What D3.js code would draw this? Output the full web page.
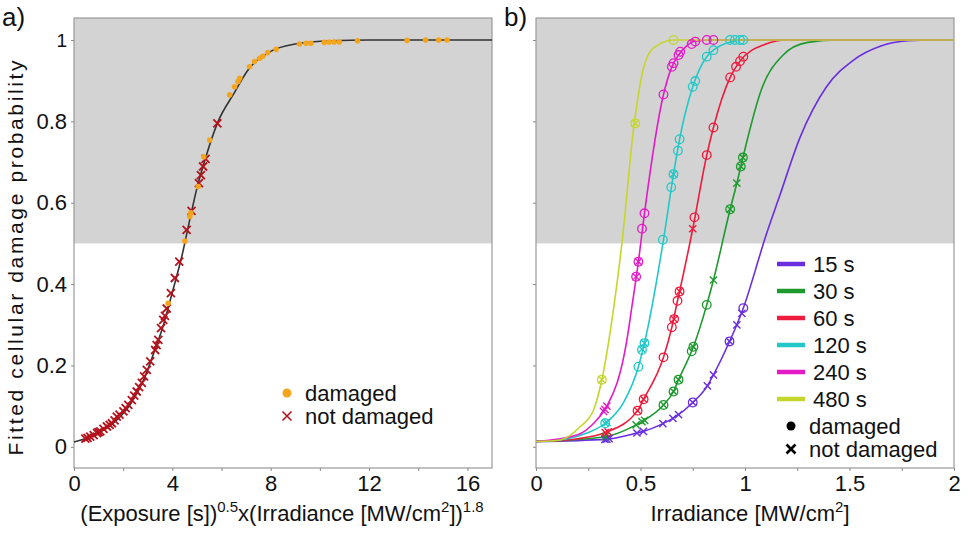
<!DOCTYPE html>
<html>
<head>
<meta charset="utf-8">
<script src="https://cdn.jsdelivr.net/npm/d3@7"></script>
<style>
body { margin: 0; background: #fff; }
text { font-family: "Liberation Sans", Arial, sans-serif; fill: #111; }
</style>
</head>
<body>
<div id="chart"></div>
<script>
// ---- panel a) data : [x, fitted probability] ----
var curveA = [[0,0.012],[0.8,0.028],[1.6,0.058],[2.3,0.105],[2.85,0.167],[3.3,0.24],[3.6,0.292],
    [4.0,0.38],[4.4,0.472],[4.7,0.556],[5.0,0.636],[5.4,0.72],[5.85,0.798],[6.5,0.868],
    [7.1,0.928],[8.0,0.972],[9.0,0.99],[10.5,0.998],[12,1],[17,1]];
var notDamagedA = [[0.46,0.02],[0.55,0.022],[0.66,0.025],[0.8,0.029],[0.94,0.034],[1.0,0.036],[1.07,0.038],
    [1.2,0.044],[1.34,0.05],[1.45,0.054],[1.54,0.058],[1.65,0.065],[1.74,0.074],[1.85,0.079],[2.01,0.087],
    [2.1,0.095],[2.21,0.103],[2.35,0.115],[2.45,0.126],[2.55,0.136],[2.65,0.147],[2.76,0.157],[2.85,0.173],
    [2.96,0.189],[3.1,0.21],[3.3,0.238],[3.36,0.25],[3.43,0.263],[3.54,0.292],[3.63,0.312],[3.7,0.322],
    [3.77,0.34],[3.94,0.378],[4.1,0.415],[4.28,0.455],[4.58,0.533],[4.78,0.58],[5.08,0.648],[5.16,0.668],
    [5.25,0.689],[5.35,0.708],[5.83,0.795]];
var damagedA = [[3.83,0.353],[4.51,0.506],[4.71,0.566],[4.75,0.575],[5.05,0.64],[5.28,0.713],[5.52,0.754],
    [6.33,0.865],[6.53,0.885],[6.67,0.898],[6.74,0.906],[7.14,0.934],[7.34,0.947],[7.55,0.955],[7.68,0.96],
    [7.88,0.969],[8.22,0.977],[9.17,0.99],[9.44,0.992],[9.64,0.992],[10.18,0.994],[10.38,0.995],
    [10.58,0.995],[10.79,0.995],[11.53,0.998],[13.55,0.999],[14.3,1],[14.83,1],[15.17,1]];

// ---- panel b) data : [irradiance, fitted probability] ----
var seriesNames = ["15 s", "30 s", "60 s", "120 s", "240 s", "480 s"];
var curve15 = [[0,0.013],[0.339,0.019],[0.483,0.034],[0.514,0.038],[0.607,0.057],[0.655,0.07],[0.682,0.079],
    [0.75,0.109],[0.82,0.15],[0.849,0.177],[0.926,0.259],[0.961,0.3],[0.992,0.341],[1.064,0.459],[1.088,0.5],
    [1.168,0.62],[1.263,0.76],[1.39,0.885],[1.518,0.95],[1.65,0.985],[1.78,0.998],[1.9,1],[2,1]];
var curve30 = [[0,0.013],[0.331,0.025],[0.479,0.054],[0.507,0.062],[0.61,0.103],[0.658,0.136],[0.682,0.165],
    [0.753,0.246],[0.817,0.349],[0.849,0.41],[0.929,0.584],[0.961,0.648],[0.99,0.711],[1.08,0.88],
    [1.18,0.962],[1.3,0.994],[1.45,1],[2,1]];
var curve60 = [[0,0.013],[0.2,0.02],[0.331,0.035],[0.486,0.089],[0.515,0.117],[0.61,0.22],[0.65,0.294],
    [0.677,0.359],[0.687,0.382],[0.75,0.536],[0.817,0.717],[0.849,0.785],[0.929,0.908],[0.976,0.948],
    [1.1,0.99],[1.2,1],[2,1]];
var curve120 = [[0,0.013],[0.15,0.02],[0.244,0.034],[0.331,0.058],[0.42,0.11],[0.49,0.197],[0.519,0.255],
    [0.61,0.509],[0.658,0.67],[0.687,0.756],[0.75,0.885],[0.817,0.959],[0.849,0.975],[0.93,0.995],[1.0,1],[2,1]];
var curve240 = [[0,0.013],[0.2,0.03],[0.28,0.06],[0.323,0.087],[0.339,0.1],[0.435,0.263],[0.459,0.345],
    [0.49,0.455],[0.519,0.574],[0.61,0.866],[0.65,0.934],[0.682,0.963],[0.72,0.985],[0.76,0.997],[0.85,1],[2,1]];
var curve480 = [[0,0.013],[0.116,0.017],[0.212,0.05],[0.275,0.09],[0.315,0.165],[0.36,0.3],[0.411,0.5],
    [0.47,0.795],[0.514,0.93],[0.562,0.98],[0.66,1],[2,1]];

var damaged15 = [[0.992,0.341],[0.926,0.259],[0.75,0.109]];
var notDamaged15 = [[0.985,0.328],[0.961,0.3],[0.926,0.259],[0.849,0.177],[0.82,0.15],[0.75,0.109],
    [0.682,0.079],[0.655,0.07],[0.607,0.057],[0.514,0.038],[0.483,0.034],[0.339,0.019],[0.33,0.018],[0.35,0.02]];
var damaged30 = [[0.99,0.711],[0.98,0.689],[0.929,0.584],[0.817,0.349],[0.753,0.246],[0.745,0.235],
    [0.682,0.165],[0.658,0.136],[0.61,0.103]];
var notDamaged30 = [[0.99,0.711],[0.98,0.689],[0.961,0.648],[0.929,0.584],[0.849,0.41],[0.753,0.246],
    [0.682,0.165],[0.658,0.136],[0.61,0.103],[0.52,0.065],[0.507,0.062],[0.479,0.054],[0.331,0.025]];
var damaged60 = [[0.992,0.959],[0.976,0.948],[0.957,0.934],[0.929,0.908],[0.849,0.785],[0.817,0.717],
    [0.758,0.564],[0.687,0.382],[0.677,0.359],[0.661,0.314],[0.65,0.294],[0.61,0.22],[0.515,0.117],[0.486,0.089]];
var notDamaged60 = [[0.75,0.536],[0.687,0.382],[0.661,0.314],[0.515,0.117],[0.486,0.089],[0.331,0.035],[0.345,0.037]];
var damaged120 = [[0.928,1],[0.952,1],[0.976,1],[0.992,1],[0.849,0.975],[0.817,0.959],[0.762,0.899],
    [0.75,0.885],[0.687,0.756],[0.679,0.728],[0.658,0.67],[0.647,0.638],[0.607,0.509],[0.519,0.255],
    [0.507,0.238],[0.49,0.197],[0.331,0.058]];
var notDamaged120 = [[0.658,0.67],[0.519,0.255],[0.507,0.24],[0.331,0.058],[0.34,0.06]];
var damaged240 = [[0.817,1],[0.849,1],[0.762,0.996],[0.745,0.99],[0.69,0.971],[0.682,0.963],[0.658,0.943],
    [0.65,0.934],[0.61,0.866],[0.519,0.574],[0.507,0.536],[0.49,0.455],[0.479,0.418]];
var notDamaged240 = [[0.479,0.418],[0.49,0.455],[0.339,0.1],[0.33,0.092],[0.323,0.087]];
var damaged480 = [[0.658,1],[0.475,0.795],[0.315,0.165]];
var notDamaged480 = [[0.475,0.795],[0.315,0.165]];

var curvesB = [curve15, curve30, curve60, curve120, curve240, curve480];
var damagedB = [damaged15, damaged30, damaged60, damaged120, damaged240, damaged480];
var notDamagedB = [notDamaged15, notDamaged30, notDamaged60, notDamaged120, notDamaged240, notDamaged480];

var yTicks = [0, 0.2, 0.4, 0.6, 0.8, 1];
var xTicksA = [0, 2, 4, 6, 8, 10, 12, 14, 16];
var xTicksB = [0, 0.25, 0.5, 0.75, 1, 1.25, 1.5, 1.75, 2];

// ---- layout ----
var width = 969, height = 534;
var plotTop = 18, plotBottom = 468;
var colors = d3.scaleOrdinal()
    .domain(seriesNames)
    .range(["#6a2ee0", "#1c9a2e", "#ee1b3c", "#22c8c8", "#e21bc6", "#c4d62c"]);

var svg = d3.select("#chart").append("svg")
    .attr("width", width)
    .attr("height", height);

var yScale = d3.scaleLinear().domain([-0.052, 1.054]).range([plotBottom, plotTop]);
var xA = d3.scaleLinear().domain([0, 17]).range([74, 492]);
var xB = d3.scaleLinear().domain([0, 2]).range([536, 954]);

function fmtB(d) { return (d * 2) % 1 === 0 ? String(d) : ""; }

function drawFrame(x) {
    var x0 = x.range()[0], x1 = x.range()[1];
    // grey band above 0.5
    svg.append("rect")
        .attr("x", x0).attr("y", plotTop)
        .attr("width", x1 - x0).attr("height", yScale(0.5) - plotTop)
        .attr("fill", "#d3d3d3");
    svg.append("rect")
        .attr("x", x0).attr("y", plotTop)
        .attr("width", x1 - x0).attr("height", plotBottom - plotTop)
        .attr("fill", "none").attr("stroke", "#9a9a9a").attr("stroke-width", 1.2);
}

function styleAxis(g) {
    g.select(".domain").remove();
    g.selectAll(".tick line").attr("stroke", "#8a8a8a");
    g.selectAll(".tick text").attr("font-size", 22).attr("fill", "#111")
        .attr("font-family", "'Liberation Sans', Arial, sans-serif");
}

function crossPath(s) {
    return "M" + (-s) + "," + (-s) + "L" + s + "," + s + "M" + (-s) + "," + s + "L" + s + "," + (-s);
}

var line = d3.line().curve(d3.curveMonotoneX);

// ================= panel a =================
drawFrame(xA);

svg.append("g")
    .attr("transform", "translate(74,0)")
    .call(d3.axisLeft(yScale).tickValues(yTicks).tickSize(3).tickPadding(4).tickFormat(d3.format("")))
    .call(styleAxis)
    .call(function(g) {
        g.selectAll(".tick text").filter(function(d) { return d === 1; }).attr("font-size", 19);
    });

svg.append("g")
    .attr("transform", "translate(0," + plotBottom + ")")
    .call(d3.axisBottom(xA).tickValues(xTicksA).tickSize(3).tickPadding(4)
        .tickFormat(function(d) { return d % 4 === 0 ? d : ""; }))
    .call(styleAxis);

svg.append("path")
    .datum(curveA.map(function(d) { return [xA(d[0]), yScale(d[1])]; }))
    .attr("d", line)
    .attr("fill", "none")
    .attr("stroke", "#333")
    .attr("stroke-width", 1.6);

svg.append("g").selectAll("path")
    .data(notDamagedA)
    .enter()
    .append("path")
    .attr("transform", function(d) { return "translate(" + xA(d[0]) + "," + yScale(d[1]) + ")"; })
    .attr("d", crossPath(4))
    .attr("stroke", "#b3121c")
    .attr("stroke-width", 1.8)
    .attr("fill", "none");

svg.append("g").selectAll("circle")
    .data(damagedA)
    .enter()
    .append("circle")
    .attr("cx", function(d) { return xA(d[0]); })
    .attr("cy", function(d) { return yScale(d[1]); })
    .attr("r", 2.8)
    .attr("fill", "#f4a51c");

// legend a
svg.append("circle").attr("cx", 287).attr("cy", 393).attr("r", 4.5).attr("fill", "#f4a51c");
svg.append("path").attr("transform", "translate(287,416)").attr("d", crossPath(4.5))
    .attr("stroke", "#b3121c").attr("stroke-width", 1.6);
svg.append("text").attr("x", 305).attr("y", 393).attr("dy", "0.35em").attr("font-size", 22).text("damaged");
svg.append("text").attr("x", 305).attr("y", 416).attr("dy", "0.35em").attr("font-size", 22).text("not damaged");

// titles a
svg.append("text")
    .attr("transform", "translate(23,258) rotate(-90)")
    .attr("text-anchor", "middle")
    .attr("font-size", 21)
    .attr("textLength", 395)
    .attr("lengthAdjust", "spacing")
    .text("Fitted cellular damage probability");

var titleA = svg.append("text")
    .attr("x", 282).attr("y", 521)
    .attr("text-anchor", "middle")
    .attr("font-size", 22);
titleA.append("tspan").text("(Exposure [s])");
titleA.append("tspan").attr("dy", -9).attr("font-size", 15).text("0.5");
titleA.append("tspan").attr("dy", 9).text("x(Irradiance [MW/cm");
titleA.append("tspan").attr("dy", -9).attr("font-size", 15).text("2");
titleA.append("tspan").attr("dy", 9).text("])");
titleA.append("tspan").attr("dy", -9).attr("font-size", 15).text("1.8");

svg.append("text").attr("x", 2).attr("y", 26).attr("font-size", 26).text("a)");

// ================= panel b =================
drawFrame(xB);

svg.append("g")
    .attr("transform", "translate(536,0)")
    .call(d3.axisLeft(yScale).tickValues(yTicks).tickSize(3).tickFormat(""))
    .call(styleAxis);

svg.append("g")
    .attr("transform", "translate(0," + plotBottom + ")")
    .call(d3.axisBottom(xB).tickValues(xTicksB).tickSize(3).tickPadding(4).tickFormat(fmtB))
    .call(styleAxis);

seriesNames.forEach(function(name, i) {
    var c = colors(name);
    svg.append("path")
        .datum(curvesB[i].map(function(d) { return [xB(d[0]), yScale(d[1])]; }))
        .attr("d", line)
        .attr("fill", "none")
        .attr("stroke", c)
        .attr("stroke-width", 1.6);
});

seriesNames.forEach(function(name, i) {
    var c = colors(name);
    var g = svg.append("g");
    g.selectAll("circle")
        .data(damagedB[i])
        .enter()
        .append("circle")
        .attr("cx", function(d) { return xB(d[0]); })
        .attr("cy", function(d) { return yScale(d[1]); })
        .attr("r", 4.3)
        .attr("fill", "none")
        .attr("stroke", c)
        .attr("stroke-width", 1.3);
    g.selectAll("path")
        .data(notDamagedB[i])
        .enter()
        .append("path")
        .attr("transform", function(d) { return "translate(" + xB(d[0]) + "," + yScale(d[1]) + ")"; })
        .attr("d", crossPath(3.6))
        .attr("stroke", c)
        .attr("stroke-width", 1.4)
        .attr("fill", "none");
});

// legend b
var legB = svg.append("g").selectAll("g")
    .data(seriesNames)
    .enter()
    .append("g")
    .attr("transform", function(d, i) { return "translate(0," + (264 + i * 27) + ")"; });
legB.append("line")
    .attr("x1", 777).attr("x2", 805)
    .attr("stroke", function(d) { return colors(d); })
    .attr("stroke-width", 4.5);
legB.append("text")
    .attr("x", 813).attr("dy", "0.35em")
    .attr("font-size", 22)
    .text(function(d) { return d; });

svg.append("circle").attr("cx", 791).attr("cy", 426).attr("r", 4.5).attr("fill", "#000");
svg.append("path").attr("transform", "translate(791,449)").attr("d", crossPath(4.5))
    .attr("stroke", "#000").attr("stroke-width", 2.6);
svg.append("text").attr("x", 809).attr("y", 426).attr("dy", "0.35em").attr("font-size", 22).text("damaged");
svg.append("text").attr("x", 809).attr("y", 449).attr("dy", "0.35em").attr("font-size", 22).text("not damaged");

var titleB = svg.append("text")
    .attr("x", 750).attr("y", 521)
    .attr("text-anchor", "middle")
    .attr("font-size", 22);
titleB.append("tspan").text("Irradiance [MW/cm");
titleB.append("tspan").attr("dy", -9).attr("font-size", 15).text("2");
titleB.append("tspan").attr("dy", 9).text("]");

svg.append("text").attr("x", 504).attr("y", 26).attr("font-size", 26).text("b)");
</script>
</body>
</html>
